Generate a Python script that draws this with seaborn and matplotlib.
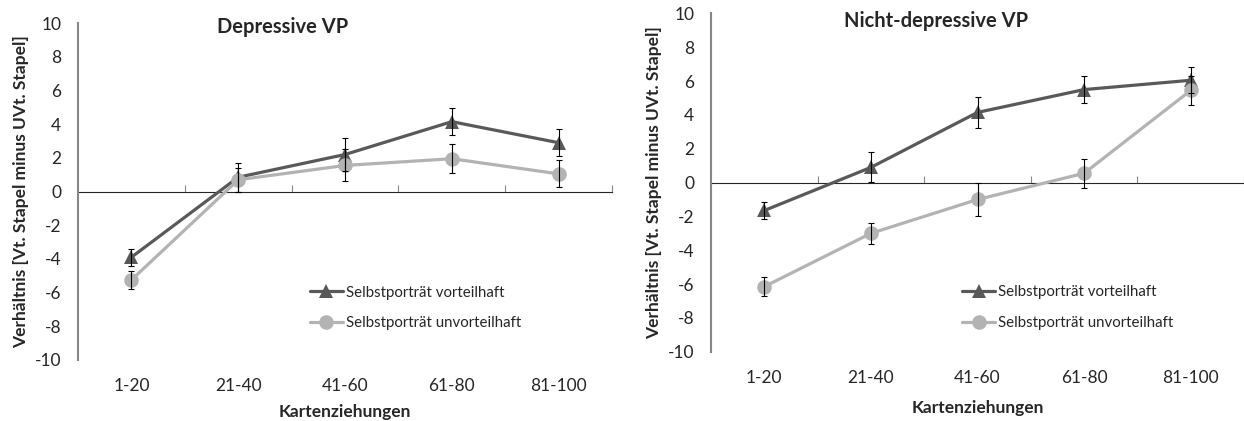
import numpy as np
import pandas as pd
import matplotlib
matplotlib.use("Agg")
import matplotlib.pyplot as plt
import seaborn as sns

# data
bins = ['1-20', '21-40', '41-60', '61-80', '81-100']
series = ['Selbstporträt vorteilhaft', 'Selbstporträt unvorteilhaft']

dep_vort = [-3.9, 0.85, 2.2, 4.15, 2.9]
dep_vort_err = [0.5, 0.85, 1.0, 0.8, 0.8]
dep_unvort = [-5.25, 0.7, 1.55, 1.95, 1.05]
dep_unvort_err = [0.55, 0.7, 0.95, 0.85, 0.8]

nd_vort = [-1.65, 0.9, 4.15, 5.5, 6.05]
nd_vort_err = [0.5, 0.88, 0.92, 0.78, 0.78]
nd_unvort = [-6.15, -3.0, -1.0, 0.55, 5.45]
nd_unvort_err = [0.55, 0.63, 1.0, 0.85, 0.85]

titles = ['Depressive VP', 'Nicht-depressive VP']
ylab = 'Verhältnis [Vt. Stapel minus UVt. Stapel]'
xlab = 'Kartenziehungen'

dark = '#595959'
light = '#b3b3b3'
axcol = '#868686'

sns.set_style('white')
plt.rcParams['font.family'] = ['Lato', 'DejaVu Sans']
plt.rcParams['axes.unicode_minus'] = False


def make_df(v1, e1, v2, e2):
    df = pd.DataFrame({
        'bin': bins * 2,
        'value': v1 + v2,
        'err': e1 + e2,
        'group': [series[0]] * 5 + [series[1]] * 5,
    })
    return df


def draw_panel(ax, df, title, title_pos, leg_pos, xlab_y, ylab_x):
    sns.lineplot(data=df, x='bin', y='value', hue='group', style='group',
                 palette=[dark, light], markers=['^', 'o'], dashes=False,
                 linewidth=2.3, markersize=10.5, markeredgewidth=0,
                 sort=False, legend=False, ax=ax)
    # error bars from the table
    for g in series:
        sub = df[df['group'] == g]
        ax.errorbar(np.arange(len(sub)), sub['value'], yerr=sub['err'],
                    fmt='none', ecolor='black', elinewidth=0.8,
                    capsize=2.5, capthick=0.8, zorder=5)
    ax.set_ylim(-10, 10)
    ax.set_xlim(-0.5, 4.5)
    ax.set_yticks(np.arange(-10, 11, 2))
    ax.tick_params(axis='y', length=0, pad=12, labelsize=12.5)
    ax.tick_params(axis='x', length=0, pad=13, labelsize=12.5)
    for s in ['top', 'right', 'bottom']:
        ax.spines[s].set_visible(False)
    ax.spines['left'].set_color(axcol)
    ax.spines['left'].set_linewidth(1.5)
    # category axis crossing at zero
    sec = ax.secondary_xaxis(0.5)
    sec.set_xticks(np.arange(0.5, 5, 1.0))
    sec.set_xticklabels([])
    sec.tick_params(length=5, width=0.8, color=axcol, direction='out')
    sec.spines['bottom'].set_color(axcol)
    sec.spines['bottom'].set_linewidth(1.5)

    ax.set_xlabel(xlab, fontsize=12.5, fontweight='bold')
    ax.set_ylabel(ylab, fontsize=12.5, fontweight='bold')
    ax.xaxis.set_label_coords(0.5, xlab_y)
    ax.yaxis.set_label_coords(ylab_x, 0.5)
    ax.text(title_pos[0], title_pos[1], title, transform=ax.transAxes,
            ha='center', va='center', fontsize=14.5, fontweight='bold')

    handles = ax.get_lines()[:2]
    ax.legend(handles, series, loc='center left', bbox_to_anchor=leg_pos,
              frameon=False, fontsize=10.8, handlelength=2.2,
              handletextpad=0.2, labelspacing=1.1, borderpad=0,
              borderaxespad=0)


fig = plt.figure(figsize=(12.44, 4.21), dpi=100)
ax1 = fig.add_axes([0.0627, 0.145, 0.4293, 0.80])
ax2 = fig.add_axes([0.5716, 0.1646, 0.4284, 0.8034])

df1 = make_df(dep_vort, dep_vort_err, dep_unvort, dep_unvort_err)
df2 = make_df(nd_vort, nd_vort_err, nd_unvort, nd_unvort_err)

draw_panel(ax1, df1, titles[0], (0.384, 0.99), (0.434, 0.155), -0.13, -0.092)
draw_panel(ax2, df2, titles[1], (0.422, 0.978), (0.471, 0.13), -0.142, -0.092)

fig.savefig('out.png', dpi=100)
